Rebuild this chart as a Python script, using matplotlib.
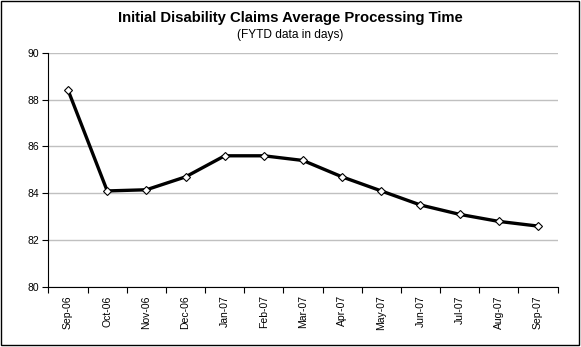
import numpy as np
import matplotlib.pyplot as plt
from matplotlib.patches import Rectangle

months = ["Sep-06", "Oct-06", "Nov-06", "Dec-06", "Jan-07", "Feb-07", "Mar-07",
          "Apr-07", "May-07", "Jun-07", "Jul-07", "Aug-07", "Sep-07"]
days = [88.4, 84.1, 84.15, 84.7, 85.6, 85.6, 85.4, 84.7, 84.1, 83.5, 83.1, 82.8, 82.6]
y_ticks = [80, 82, 84, 86, 88, 90]

plt.rcParams['font.family'] = ['Liberation Sans', 'DejaVu Sans']

fig = plt.figure(figsize=(5.81, 3.47), dpi=100)
ax = fig.add_axes([48.5 / 581, 60 / 347, 509 / 581, 234.3 / 347])

# outer chart border
fig.patches.append(Rectangle((1 / 581, 2.5 / 347), 578 / 581, 343.5 / 347,
                             transform=fig.transFigure, fill=False,
                             edgecolor='black', linewidth=1.0))

x = np.arange(len(months))
ax.plot(x, days, color='black', linewidth=2.4, marker='D', markersize=4,
        markerfacecolor='white', markeredgecolor='black', markeredgewidth=0.8,
        zorder=3)

ax.set_xlim(-0.5, len(months) - 0.5)
ax.set_ylim(80, 90)
ax.set_yticks(y_ticks)
ax.set_yticklabels([str(v) for v in y_ticks], fontsize=7.5)
ax.yaxis.grid(True, color='#c0c0c0', linewidth=1.0)
ax.set_axisbelow(True)

# month labels between boundary ticks
ax.set_xticks(x)
ax.set_xticklabels(months, rotation=90, fontsize=7.5)
ax.tick_params(axis='x', which='major', length=0, pad=6)
ax.set_xticks(np.arange(len(months) + 1) - 0.5, minor=True)
ax.tick_params(axis='x', which='minor', length=4, width=0.8, direction='out')
ax.tick_params(axis='y', length=4, width=0.8, direction='out', pad=3)

for s in ['top', 'right']:
    ax.spines[s].set_visible(False)
for s in ['left', 'bottom']:
    ax.spines[s].set_linewidth(0.8)

fig.text(0.5, 1 - 18 / 347, "Initial Disability Claims Average Processing Time",
         ha='center', va='center', fontsize=10.7, fontweight='bold')
fig.text(0.5, 1 - 35 / 347, "(FYTD data in days)", ha='center', va='center',
         fontsize=8.6)

fig.savefig("out.png", dpi=100)
